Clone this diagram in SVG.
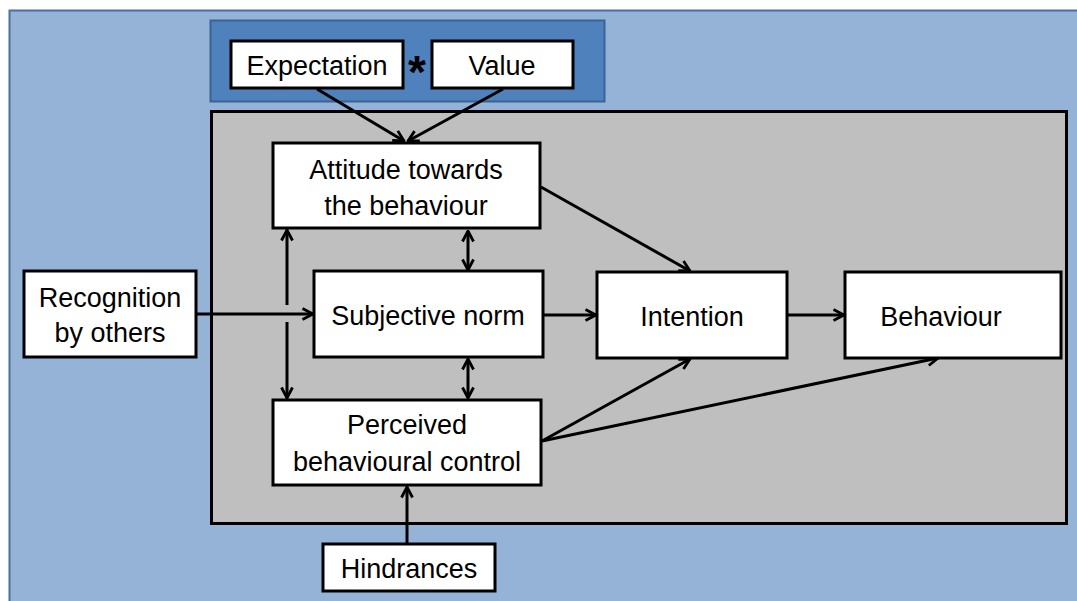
<svg xmlns="http://www.w3.org/2000/svg" width="1077" height="601" viewBox="0 0 1077 601">
  <style>
    .box { fill: #ffffff; stroke: #000000; stroke-width: 3; }
    .lbl { font-family: "Liberation Sans", Arial, sans-serif; font-size: 27px; fill: #000000; text-anchor: middle; }
    .link { stroke: #000000; stroke-width: 3; fill: none; }
  </style>
  <defs>
    <marker id="head" viewBox="0 0 14 14" refX="12.5" refY="7" markerWidth="14" markerHeight="14" markerUnits="userSpaceOnUse" orient="auto-start-reverse">
      <path d="M2,1.5 L12.5,7 L2,12.5" fill="none" stroke="#000000" stroke-width="2.8"/>
    </marker>
  </defs>

  <!-- page background -->
  <rect x="0" y="0" width="1077" height="601" fill="#ffffff"/>
  <rect x="9.5" y="10.5" width="1080" height="600" fill="#95b3d7" stroke="#4a6fa0" stroke-width="2"/>

  <!-- expectation-value panel -->
  <rect id="ev-panel" x="210.5" y="20.5" width="394" height="81" fill="#4f81bd" stroke="#3b6394" stroke-width="2"/>

  <!-- theory of planned behaviour panel -->
  <rect id="tpb-panel" x="211.5" y="111.5" width="855" height="412" fill="#bfbfbf" stroke="#000000" stroke-width="3"/>

  <!-- connectors -->
  <g id="connectors">
    <line class="link" x1="317" y1="89" x2="404" y2="141" marker-end="url(#head)"/>
    <line class="link" x1="503" y1="89" x2="408" y2="141" marker-end="url(#head)"/>
    <line class="link" x1="541" y1="187" x2="690" y2="271" marker-end="url(#head)"/>
    <line class="link" x1="543" y1="315" x2="596" y2="315" marker-end="url(#head)"/>
    <line class="link" x1="787" y1="315" x2="844" y2="315" marker-end="url(#head)"/>
    <line class="link" x1="542" y1="441" x2="690" y2="359" marker-end="url(#head)"/>
    <line class="link" x1="542" y1="441" x2="938" y2="358" marker-end="url(#head)"/>
    <line class="link" x1="196" y1="314" x2="313" y2="314" marker-end="url(#head)"/>
    <line class="link" x1="287" y1="230" x2="287" y2="305" marker-start="url(#head)"/>
    <line class="link" x1="287" y1="322" x2="287" y2="398" marker-end="url(#head)"/>
    <line class="link" x1="468" y1="231" x2="468" y2="270" marker-start="url(#head)" marker-end="url(#head)"/>
    <line class="link" x1="468" y1="359" x2="468" y2="398" marker-start="url(#head)" marker-end="url(#head)"/>
    <line class="link" x1="407" y1="543" x2="407" y2="487" marker-end="url(#head)"/>
  </g>

  <g id="expectation">
    <rect class="box" x="231" y="41" width="172" height="47"/>
    <text class="lbl" x="317" y="75">Expectation</text>
  </g>
  <text id="times" x="417" y="88" font-family="Liberation Sans, Arial, sans-serif" font-size="46" font-weight="bold" text-anchor="middle" fill="#000000">*</text>
  <g id="value">
    <rect class="box" x="432" y="41" width="141" height="47"/>
    <text class="lbl" x="502" y="75">Value</text>
  </g>

  <g id="attitude">
    <rect class="box" x="273" y="143" width="267" height="85"/>
    <text class="lbl" x="406" y="179">Attitude towards</text>
    <text class="lbl" x="406" y="215">the behaviour</text>
  </g>

  <g id="subjective-norm">
    <rect class="box" x="314" y="271" width="229" height="86"/>
    <text class="lbl" x="428" y="325">Subjective norm</text>
  </g>

  <g id="intention">
    <rect class="box" x="597" y="272" width="190" height="86"/>
    <text class="lbl" x="692" y="326">Intention</text>
  </g>

  <g id="behaviour">
    <rect class="box" x="845" y="272" width="216" height="86"/>
    <text class="lbl" x="941" y="326">Behaviour</text>
  </g>

  <g id="perceived-control">
    <rect class="box" x="273" y="400" width="268" height="85"/>
    <text class="lbl" x="407" y="434">Perceived</text>
    <text class="lbl" x="407" y="471">behavioural control</text>
  </g>

  <g id="recognition">
    <rect class="box" x="24" y="271" width="172" height="86"/>
    <text class="lbl" x="110" y="307">Recognition</text>
    <text class="lbl" x="110" y="342">by others</text>
  </g>

  <g id="hindrances">
    <rect class="box" x="323" y="544" width="172" height="47"/>
    <text class="lbl" x="409" y="578">Hindrances</text>
  </g>
</svg>
